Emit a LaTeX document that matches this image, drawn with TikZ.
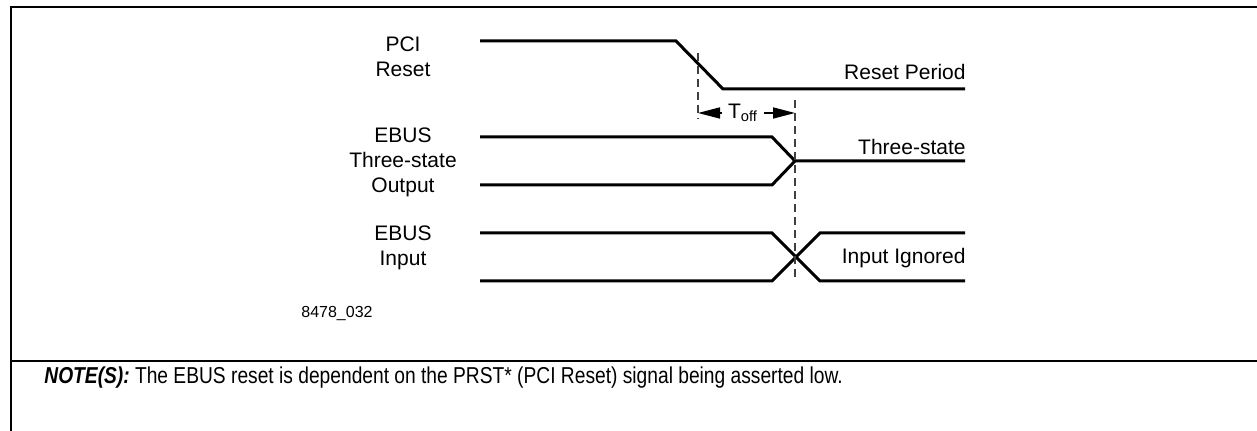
\documentclass[tikz,border=0pt]{standalone}
\usepackage{fontspec}
\setmainfont{Liberation Sans}
\newfontfamily\notefont[FakeStretch=0.835]{Liberation Sans}
\usetikzlibrary{arrows.meta}

\def\lblsize{\fontsize{10.5}{12.5}\selectfont}
\tikzstyle{frame} = [line width=1.3pt, black]
\tikzstyle{wave} = [line width=1.5pt, black, line join=miter]
\tikzstyle{marker} = [line width=0.9pt, black!75, dash pattern=on 4pt off 2.5pt]
\tikzstyle{siglabel} = [align=center, font=\lblsize, inner sep=0pt]
\tikzstyle{statelabel} = [anchor=east, font=\lblsize, inner sep=0pt]
\tikzstyle{span} = [line width=0.8pt, -{Triangle[length=11pt,width=5.5pt]}]

\begin{document}
\begin{tikzpicture}[x=0.5pt, y=-0.5pt]
    \useasboundingbox (0,0) rectangle (1257,431);
    %%%%%%%%%%%%%%%%%%%%%%%%%%%%%%%%%%%%%%%%
    % Frame
    %%%%%%%%%%%%%%%%%%%%%%%%%%%%%%%%%%%%%%%%
    \draw[frame] (1257,7) -- (11,7) -- (11,431);
    \draw[frame] (11,361) -- (1257,361);
    %%%%%%%%%%%%%%%%%%%%%%%%%%%%%%%%%%%%%%%%
    % Signal names
    %%%%%%%%%%%%%%%%%%%%%%%%%%%%%%%%%%%%%%%%
    \node (pci) [siglabel] at (403,57) {PCI\\Reset};
    \node (tso) [siglabel] at (403,162) {EBUS\\Three-state\\Output};
    \node (inp) [siglabel] at (403,248) {EBUS\\Input};
    \node (fig) [anchor=west, inner sep=0pt, font=\fontsize{8}{10}\selectfont] at (301,314) {8478\_032};
    %%%%%%%%%%%%%%%%%%%%%%%%%%%%%%%%%%%%%%%%
    % Waveforms
    %%%%%%%%%%%%%%%%%%%%%%%%%%%%%%%%%%%%%%%%
    \draw[wave] (480,41) -- (676,41) -- (723,89) -- (965,89);
    \draw[wave] (480,137) -- (772,137) -- (795,161) -- (965,161);
    \draw[wave] (480,185) -- (772,185) -- (795,161);
    \draw[wave] (480,233) -- (772,233) -- (820,281) -- (965,281);
    \draw[wave] (480,281) -- (772,281) -- (820,233) -- (965,233);
    \node (rst) [statelabel] at (966,72) {Reset Period};
    \node (tri) [statelabel] at (966,147) {Three-state};
    \node (ign) [statelabel] at (966,258) {Input Ignored};
    %%%%%%%%%%%%%%%%%%%%%%%%%%%%%%%%%%%%%%%%
    % Toff
    %%%%%%%%%%%%%%%%%%%%%%%%%%%%%%%%%%%%%%%%
    \coordinate (m1top) at (698,53);
    \coordinate (m1bot) at (698,119);
    \coordinate (m2top) at (795,100);
    \coordinate (m2bot) at (795,278);
    \draw[marker] (m1top) -- (m1bot);
    \draw[marker] (m2top) -- (m2bot);
    \coordinate (d1) at (698,113);
    \coordinate (d2) at (795,113);
    \node (toff) [font=\lblsize, inner sep=3pt] at (743,113) {T\textsubscript{off}};
    \draw[span] (toff.west) -- (d1);
    \draw[span] (toff.east) -- (d2);
    %%%%%%%%%%%%%%%%%%%%%%%%%%%%%%%%%%%%%%%%
    % Note
    %%%%%%%%%%%%%%%%%%%%%%%%%%%%%%%%%%%%%%%%
    \node (note) [anchor=west, inner sep=0pt, font=\notefont\fontsize{11.5}{13}\selectfont] at (44,378) {\textbf{\textit{NOTE(S):}} The EBUS reset is dependent on the PRST* (PCI Reset) signal being asserted low.};
\end{tikzpicture}
\end{document}
